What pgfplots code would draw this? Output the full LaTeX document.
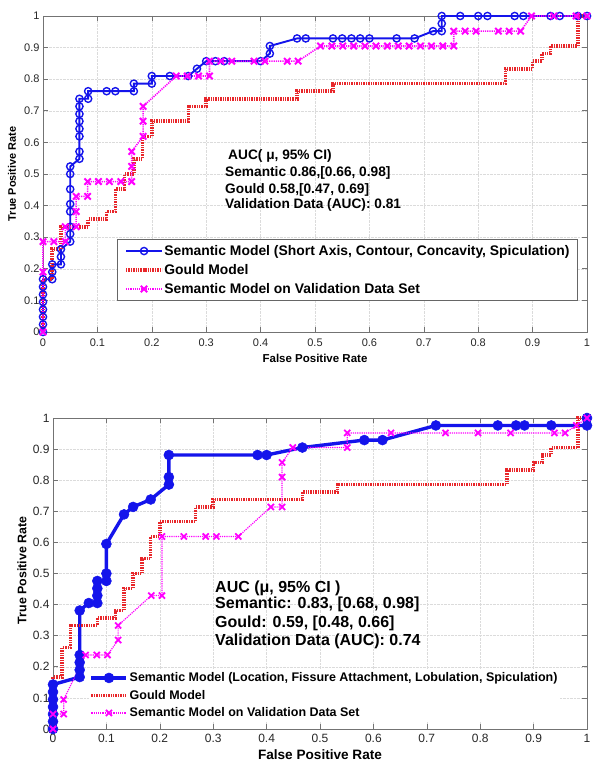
\documentclass[border=0pt]{standalone}
\usepackage{fontspec}
\setmainfont{Liberation Sans}
\usepackage{pgfplots}
\pgfplotsset{compat=1.18}
\definecolor{mblue}{RGB}{20,20,235}
\definecolor{mred}{RGB}{232,38,42}
\definecolor{mmag}{RGB}{255,0,255}
\pgfplotsset{
  rocaxis/.style={
    scale only axis, xmin=0, xmax=1, ymin=0, ymax=1,
    xtick={0,0.1,0.2,0.3,0.4,0.5,0.6,0.7,0.8,0.9,1},
    ytick={0,0.1,0.2,0.3,0.4,0.5,0.6,0.7,0.8,0.9,1},
    grid=major, major grid style={densely dotted, black!14, line width=0.5pt},
    tick align=inside, tick pos=both, major tick length=5pt,
    every tick/.style={black!55, line width=0.6pt},
    axis line style={black!55, line width=0.8pt},
    /pgf/number format/assume math mode=true,
    ticklabel style={text=black!85},
    clip=false,
    legend cell align=left,
  },
  gouldstyle/.style={mred, line width=3.5pt, dash pattern=on 1.4pt off 1pt},
}
\begin{document}
\begin{tikzpicture}
\path[use as bounding box] (0pt,0pt) rectangle (602pt,773pt);
% ---------------- TOP ----------------
\begin{axis}[rocaxis, at={(43pt,441pt)}, anchor=south west, width=544pt, height=316pt,
  tick label style={font=\fontsize{11}{13}\selectfont},
  xticklabel style={yshift=-3pt},
  xlabel={False Positive Rate}, ylabel={True Positive Rate},
  xlabel style={font=\fontsize{11.5}{13}\selectfont\bfseries, at={(axis description cs:0.5,-0.082)}, anchor=center},
  ylabel style={font=\fontsize{10.9}{13}\selectfont\bfseries, at={(axis description cs:-0.057,0.5)}, anchor=center},
  legend image code/.code={\draw[mark repeat=2,mark phase=2] plot coordinates {(0pt,0pt) (18pt,0pt) (36pt,0pt)};},
  legend style={at={(axis description cs:0.136,0.2943)}, anchor=north west, draw=black!60, line width=0.6pt, fill=white,
    font=\fontsize{13.9}{16}\selectfont\bfseries, inner xsep=7pt, inner ysep=5pt, row sep=5.5pt,
    nodes={inner xsep=0.5pt, inner ysep=0pt, text height=11pt, text depth=2.5pt}},
]
\addplot[mblue, line width=1.9pt, mark=o, mark size=3.6pt, mark options={line width=1.4pt}] coordinates {
(0,0) (0,0.024) (0,0.048) (0,0.071) (0,0.095) (0,0.119) (0,0.143) (0,0.167)
(0.017,0.167) (0.017,0.190) (0.017,0.214) (0.033,0.214) (0.033,0.238) (0.033,0.262)
(0.05,0.286) (0.05,0.310) (0.05,0.333) (0.05,0.381) (0.05,0.405) (0.05,0.452) (0.05,0.500) (0.05,0.524)
(0.067,0.548) (0.067,0.571) (0.067,0.619) (0.067,0.643) (0.067,0.667) (0.067,0.690) (0.067,0.714) (0.067,0.738)
(0.083,0.738) (0.083,0.762) (0.117,0.762) (0.133,0.762) (0.167,0.762) (0.167,0.786) (0.2,0.786) (0.2,0.810)
(0.233,0.810) (0.267,0.810) (0.283,0.833) (0.3,0.857) (0.317,0.857) (0.333,0.857) (0.4,0.857)
(0.417,0.881) (0.417,0.905) (0.467,0.929) (0.483,0.929) (0.533,0.929) (0.55,0.929) (0.567,0.929)
(0.583,0.929) (0.6,0.929) (0.65,0.929) (0.683,0.929) (0.717,0.952) (0.733,0.952) (0.733,0.976) (0.733,1)
(0.767,1) (0.8,1) (0.817,1) (0.867,1) (0.883,1) (0.933,1) (0.95,1) (0.983,1) (1,1)};
\addlegendentry{Semantic Model (Short Axis, Contour, Concavity, Spiculation)}
\addplot[gouldstyle] coordinates {
(0,0) (0,0.167) (0.017,0.167) (0.017,0.262) (0.033,0.262) (0.033,0.333) (0.083,0.333) (0.083,0.357)
(0.117,0.357) (0.117,0.381) (0.133,0.381) (0.133,0.452) (0.15,0.452) (0.15,0.5) (0.167,0.5) (0.167,0.548)
(0.183,0.548) (0.183,0.619) (0.2,0.619) (0.2,0.667) (0.267,0.667) (0.267,0.714) (0.3,0.714) (0.3,0.738)
(0.467,0.738) (0.467,0.762) (0.533,0.762) (0.533,0.786) (0.85,0.786) (0.85,0.833) (0.9,0.833) (0.9,0.857)
(0.917,0.857) (0.917,0.881) (0.933,0.881) (0.933,0.905) (0.983,0.905) (0.983,1) (1,1)};
\addlegendentry{Gould Model}
\addplot[mmag, line width=1.6pt, dash pattern=on 1.2pt off 1pt, mark=x, mark size=4.5pt, mark options={solid, line width=2pt}] coordinates {
(0,0) (0,0.190) (0,0.286) (0.020,0.286) (0.041,0.286) (0.041,0.333) (0.061,0.333) (0.061,0.381) (0.061,0.429)
(0.082,0.429) (0.082,0.476) (0.102,0.476) (0.122,0.476) (0.143,0.476) (0.163,0.476) (0.163,0.524) (0.163,0.571)
(0.184,0.619) (0.184,0.667) (0.184,0.714) (0.245,0.810) (0.265,0.810) (0.286,0.810) (0.306,0.810) (0.306,0.857)
(0.327,0.857) (0.347,0.857) (0.388,0.857) (0.408,0.857) (0.449,0.857) (0.469,0.857) (0.510,0.905) (0.531,0.905)
(0.551,0.905) (0.571,0.905) (0.592,0.905) (0.612,0.905) (0.633,0.905) (0.653,0.905) (0.673,0.905) (0.694,0.905)
(0.714,0.905) (0.735,0.905) (0.755,0.905) (0.755,0.952) (0.776,0.952) (0.796,0.952) (0.837,0.952) (0.857,0.952)
(0.878,0.952) (0.898,1) (0.939,1) (0.980,1) (1,1)};
\addlegendentry{Semantic Model on Validation Data Set}
\node[anchor=base west, inner sep=0pt, font=\fontsize{13.7}{16}\selectfont\bfseries] at (axis description cs:0.3401,0.5443) {AUC( μ, 95\% CI)};
\node[anchor=base west, inner sep=0pt, font=\fontsize{13.7}{16}\selectfont\bfseries] at (axis description cs:0.3346,0.4918) {Semantic 0.86,[0.66, 0.98]};
\node[anchor=base west, inner sep=0pt, font=\fontsize{13.7}{16}\selectfont\bfseries] at (axis description cs:0.3346,0.4392) {Gould 0.58,[0.47, 0.69]};
\node[anchor=base west, inner sep=0pt, font=\fontsize{13.7}{16}\selectfont\bfseries] at (axis description cs:0.3346,0.3918) {Validation Data (AUC): 0.81};
\end{axis}
% ---------------- BOTTOM ----------------
\begin{axis}[rocaxis, at={(53pt,44pt)}, anchor=south west, width=534pt, height=311pt,
  tick label style={font=\fontsize{12}{14}\selectfont},
  xticklabel style={yshift=-2pt},
  xlabel={False Positive Rate}, ylabel={True Positive Rate},
  xlabel style={font=\fontsize{13.6}{15}\selectfont\bfseries, at={(axis description cs:0.5,-0.0836)}, anchor=center},
  ylabel style={font=\fontsize{12.4}{14}\selectfont\bfseries, at={(axis description cs:-0.058,0.51)}, anchor=center},
  legend image code/.code={\draw[mark repeat=2,mark phase=2] plot coordinates {(0pt,0pt) (17.5pt,0pt) (35pt,0pt)};},
  legend style={at={(axis description cs:0.0665,0.1913)}, anchor=north west, draw=none, fill=white,
    font=\fontsize{12.5}{14}\selectfont\bfseries, inner xsep=1pt, inner ysep=2pt, row sep=5pt,
    nodes={inner xsep=1.5pt, inner ysep=0pt, text height=10pt, text depth=2.5pt}},
]
\addplot[mblue, line width=3.4pt, mark=*, mark size=5pt, mark options={line width=0.5pt}] coordinates {
(0,0) (0,0.024) (0,0.048) (0,0.071) (0,0.095) (0,0.119) (0,0.143) (0.05,0.167) (0.05,0.190) (0.05,0.214)
(0.05,0.238) (0.05,0.381) (0.067,0.405) (0.083,0.405) (0.083,0.429) (0.083,0.452) (0.083,0.476) (0.1,0.476)
(0.1,0.5) (0.1,0.595) (0.133,0.690) (0.15,0.714) (0.183,0.738) (0.217,0.786) (0.217,0.810) (0.217,0.881)
(0.383,0.881) (0.4,0.881) (0.467,0.905) (0.583,0.929) (0.617,0.929) (0.717,0.976) (0.833,0.976) (0.867,0.976)
(0.883,0.976) (0.933,0.976) (1,0.976) (1,1)};
\addlegendentry{Semantic Model (Location, Fissure Attachment, Lobulation, Spiculation)}
\addplot[gouldstyle] coordinates {
(0,0) (0,0.167) (0.017,0.167) (0.017,0.262) (0.033,0.262) (0.033,0.333) (0.083,0.333) (0.083,0.357)
(0.117,0.357) (0.117,0.381) (0.133,0.381) (0.133,0.452) (0.15,0.452) (0.15,0.5) (0.167,0.5) (0.167,0.548)
(0.183,0.548) (0.183,0.619) (0.2,0.619) (0.2,0.667) (0.267,0.667) (0.267,0.714) (0.3,0.714) (0.3,0.738)
(0.467,0.738) (0.467,0.762) (0.533,0.762) (0.533,0.786) (0.85,0.786) (0.85,0.833) (0.9,0.833) (0.9,0.857)
(0.917,0.857) (0.917,0.881) (0.933,0.881) (0.933,0.905) (0.983,0.905) (0.983,1) (1,1)};
\addlegendentry{Gould Model}
\addplot[mmag, line width=1.2pt, dash pattern=on 1.2pt off 1pt, mark=x, mark size=4.3pt, mark options={solid, line width=1.8pt}] coordinates {
(0,0) (0,0.048) (0.020,0.048) (0.020,0.095) (0.061,0.238) (0.082,0.238) (0.102,0.238) (0.122,0.286) (0.122,0.333)
(0.184,0.429) (0.204,0.429) (0.204,0.619) (0.245,0.619) (0.286,0.619) (0.306,0.619) (0.347,0.619) (0.408,0.714)
(0.429,0.714) (0.429,0.810) (0.429,0.857) (0.449,0.905) (0.551,0.905) (0.551,0.952) (0.633,0.952) (0.735,0.952)
(0.796,0.952) (0.857,0.952) (0.939,0.952) (0.959,0.952) (0.980,0.976) (1,1)};
\addlegendentry{Semantic Model on Validation Data Set}
\node[anchor=base west, inner sep=0pt, font=\fontsize{16}{18}\selectfont\bfseries] at (axis description cs:0.3034,0.4392) {AUC (μ, 95\% CI )};
\node[anchor=base west, inner sep=0pt, font=\fontsize{16}{18}\selectfont\bfseries] at (axis description cs:0.3034,0.3859) {Semantic: 0.83, [0.68, 0.98]};
\node[anchor=base west, inner sep=0pt, font=\fontsize{16}{18}\selectfont\bfseries] at (axis description cs:0.3034,0.3267) {Gould: 0.59, [0.48, 0.66]};
\node[anchor=base west, inner sep=0pt, font=\fontsize{16}{18}\selectfont\bfseries] at (axis description cs:0.3034,0.2678) {Validation Data (AUC): 0.74};
\end{axis}
\end{tikzpicture}
\end{document}
